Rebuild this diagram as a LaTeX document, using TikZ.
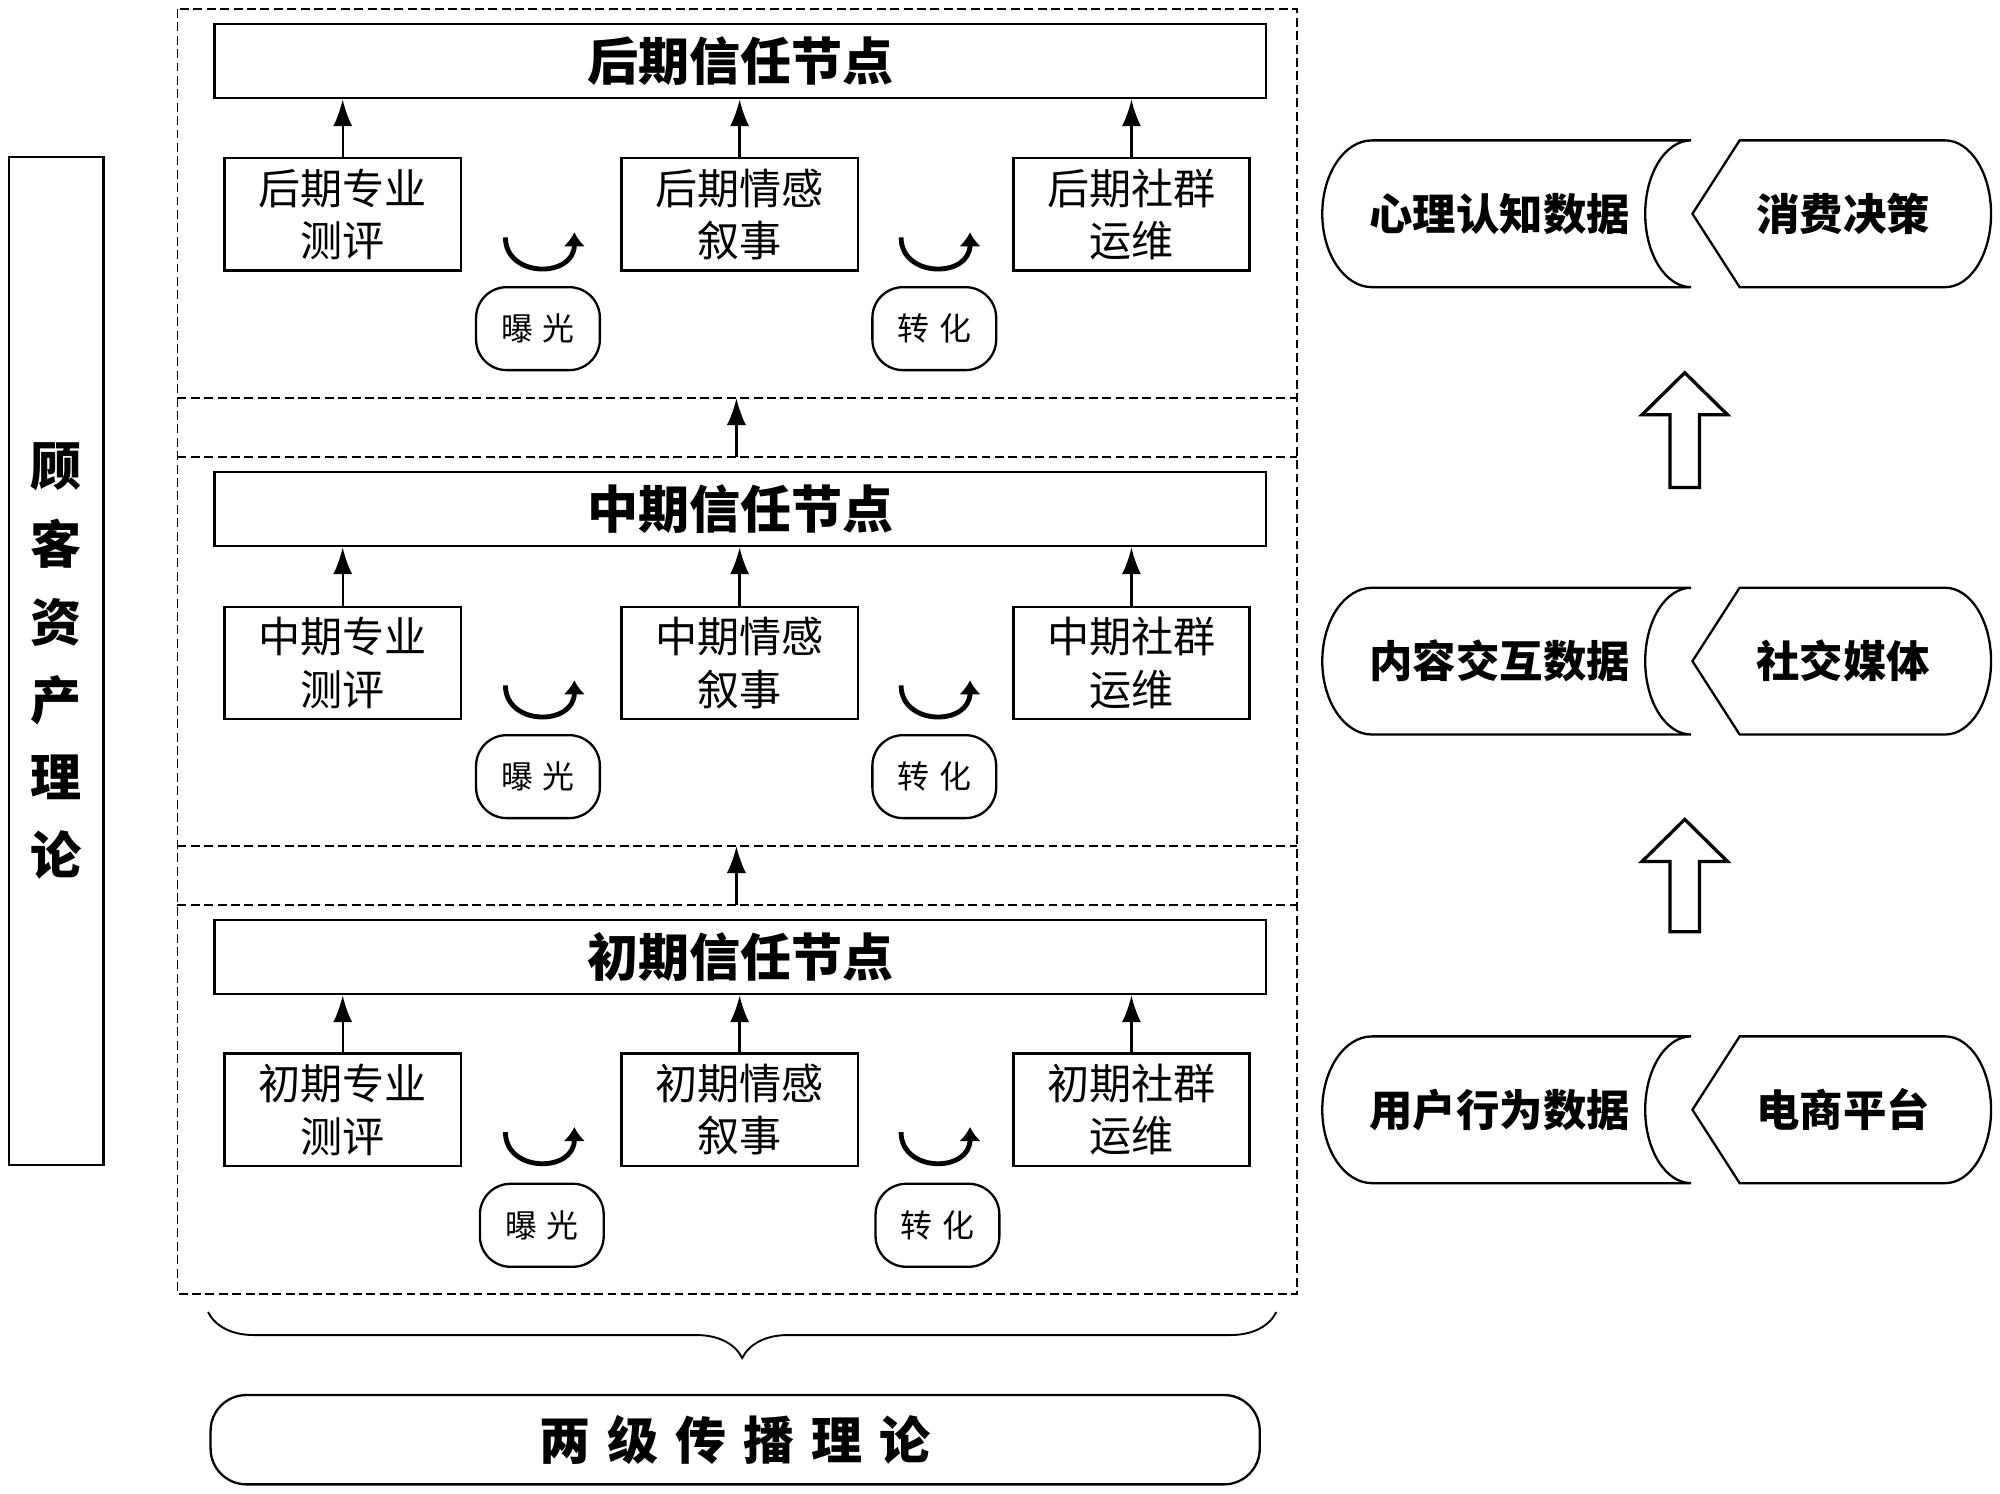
\documentclass[tikz,border=0pt]{standalone}
\usepackage{fontspec}
\setmainfont{Noto Sans CJK SC}
\usetikzlibrary{arrows.meta,decorations.pathreplacing}

\begin{document}
\begin{tikzpicture}[x=1pt,y=-1pt,line width=1.8pt,
	stage/.style={draw,line width=1.2pt,dash pattern=on 7pt off 3.5pt},
	title/.style={rectangle,draw,minimum width=824pt,minimum height=58pt,inner sep=0pt,font=\fontsize{40}{48}\selectfont\bfseries},
	sub/.style={rectangle,draw,minimum width=185pt,minimum height=88pt,inner sep=0pt,align=center,font=\fontsize{33}{41}\selectfont},
	phase/.style={rectangle,draw,rounded corners=24pt,minimum width=97pt,minimum height=65pt,inner sep=0pt,font=\fontsize{25}{28}\selectfont\addfontfeature{LetterSpace=30}},
	up/.style={-{Latex[length=21pt,width=15pt]}},
	turn/.style={line width=3.8pt,-{Latex[length=11pt,width=17pt]}},
	datatext/.style={inner sep=0pt,font=\fontsize{34}{40}\selectfont\bfseries},
	datashape/.style={draw,line width=1.8pt},
	hollow/.style={draw,line width=2.6pt,fill=white}]
	\useasboundingbox (0,0) rectangle (1567,1170);

	% left theory
	\node[rectangle,draw,minimum width=74pt,minimum height=790pt,inner sep=0pt,align=center,font=\fontsize{40}{61}\selectfont\bfseries] (capital) at (44,518) {顾\\客\\资\\产\\理\\论};

	% dashed stage frames
	\draw[stage] (139,7) rectangle (1016,1014);
	\draw[stage] (139,312) -- (1016,312);
	\draw[stage] (139,358) -- (1016,358);
	\draw[stage] (139,663) -- (1016,663);
	\draw[stage] (139,709) -- (1016,709);
	\coordinate (lateb) at (577,312);
	\coordinate (midt) at (577,358);
	\coordinate (midb) at (577,663);
	\coordinate (earlyt) at (577,709);
	\path[up,draw] (midt) -- (lateb);
	\path[up,draw] (earlyt) -- (midb);

	% late stage
	\node[title] (late) at (580,48) {后期信任节点};
	\node[sub] (latepro) at (268.5,168) {后期专业\\测评};
	\node[sub] (lateemo) at (579.5,168) {后期情感\\叙事};
	\node[sub] (latecom) at (886.5,168) {后期社群\\运维};
	\node[phase] (lateexp) at (421.5,257.5) {曝光};
	\node[phase] (lateconv) at (732,257.5) {转化};
	\path[up,draw] (latepro) -- (latepro|-late.south);
	\path[up,draw] (lateemo) -- (lateemo|-late.south);
	\path[up,draw] (latecom) -- (latecom|-late.south);
	\draw[turn] (396,186) .. controls (396,218) and (450,218) .. (450,182);
	\draw[turn] (706,186) .. controls (706,218) and (760,218) .. (760,182);

	% middle stage
	\node[title] (mid) at (580,399) {中期信任节点};
	\node[sub] (midpro) at (268.5,519.5) {中期专业\\测评};
	\node[sub] (midemo) at (579.5,519.5) {中期情感\\叙事};
	\node[sub] (midcom) at (886.5,519.5) {中期社群\\运维};
	\node[phase] (midexp) at (421.5,608.5) {曝光};
	\node[phase] (midconv) at (732,608.5) {转化};
	\path[up,draw] (midpro) -- (midpro|-mid.south);
	\path[up,draw] (midemo) -- (midemo|-mid.south);
	\path[up,draw] (midcom) -- (midcom|-mid.south);
	\draw[turn] (396,537) .. controls (396,569) and (450,569) .. (450,533);
	\draw[turn] (706,537) .. controls (706,569) and (760,569) .. (760,533);

	% early stage
	\node[title] (early) at (580,750) {初期信任节点};
	\node[sub] (earlypro) at (268.5,869.5) {初期专业\\测评};
	\node[sub] (earlyemo) at (579.5,869.5) {初期情感\\叙事};
	\node[sub] (earlycom) at (886.5,869.5) {初期社群\\运维};
	\node[phase] (earlyexp) at (424.5,960) {曝光};
	\node[phase] (earlyconv) at (734.5,960) {转化};
	\path[up,draw] (earlypro) -- (earlypro|-early.south);
	\path[up,draw] (earlyemo) -- (earlyemo|-early.south);
	\path[up,draw] (earlycom) -- (earlycom|-early.south);
	\draw[turn] (396,887) .. controls (396,919) and (450,919) .. (450,883);
	\draw[turn] (706,887) .. controls (706,919) and (760,919) .. (760,883);

	% two-step flow
	\draw[line width=1.5pt,decorate,decoration={brace,mirror,amplitude=36pt}] (163,1028) -- (1000,1028);
	\node[rectangle,draw,rounded corners=28pt,minimum width=822pt,minimum height=70pt,inner sep=0pt,font=\fontsize{40}{48}\selectfont\bfseries\addfontfeature{LetterSpace=33}] (twostep) at (576,1128) {两级传播理论\hspace{-13pt}};

	% right data chain
	\draw[datashape] (1325,110) -- (1075,110) arc[start angle=270,end angle=90,x radius=39,y radius=57.5] -- (1325,225) arc[start angle=90,end angle=270,x radius=36,y radius=57.5];
	\draw[datashape] (1326,167.5) -- (1363,110) -- (1524,110) arc[start angle=270,end angle=450,x radius=36,y radius=57.5] -- (1363,225) -- cycle;
	\node[datatext] (cog) at (1175,167.5) {心理认知数据};
	\node[datatext] (buy) at (1444,167.5) {消费决策};

	\draw[datashape] (1325,460.5) -- (1075,460.5) arc[start angle=270,end angle=90,x radius=39,y radius=57.5] -- (1325,575.5) arc[start angle=90,end angle=270,x radius=36,y radius=57.5];
	\draw[datashape] (1326,518) -- (1363,460.5) -- (1524,460.5) arc[start angle=270,end angle=450,x radius=36,y radius=57.5] -- (1363,575.5) -- cycle;
	\node[datatext] (inter) at (1175,518) {内容交互数据};
	\node[datatext] (social) at (1444,518) {社交媒体};

	\draw[datashape] (1325,812) -- (1075,812) arc[start angle=270,end angle=90,x radius=39,y radius=57.5] -- (1325,927) arc[start angle=90,end angle=270,x radius=36,y radius=57.5];
	\draw[datashape] (1326,869.5) -- (1363,812) -- (1524,812) arc[start angle=270,end angle=450,x radius=36,y radius=57.5] -- (1363,927) -- cycle;
	\node[datatext] (behav) at (1175,869.5) {用户行为数据};
	\node[datatext] (shop) at (1444,869.5) {电商平台};

	\coordinate (up1) at (1320,382);
	\coordinate (up2) at (1320,730);
	\draw[hollow] (up1) ++(-11.5,0) -- ++(0,-57) -- ++(-22,0) -- ++(33.5,-33) -- ++(33.5,33) -- ++(-22,0) -- ++(0,57) -- cycle;
	\draw[hollow] (up2) ++(-11.5,0) -- ++(0,-55) -- ++(-22,0) -- ++(33.5,-33) -- ++(33.5,33) -- ++(-22,0) -- ++(0,55) -- cycle;
\end{tikzpicture}
\end{document}
